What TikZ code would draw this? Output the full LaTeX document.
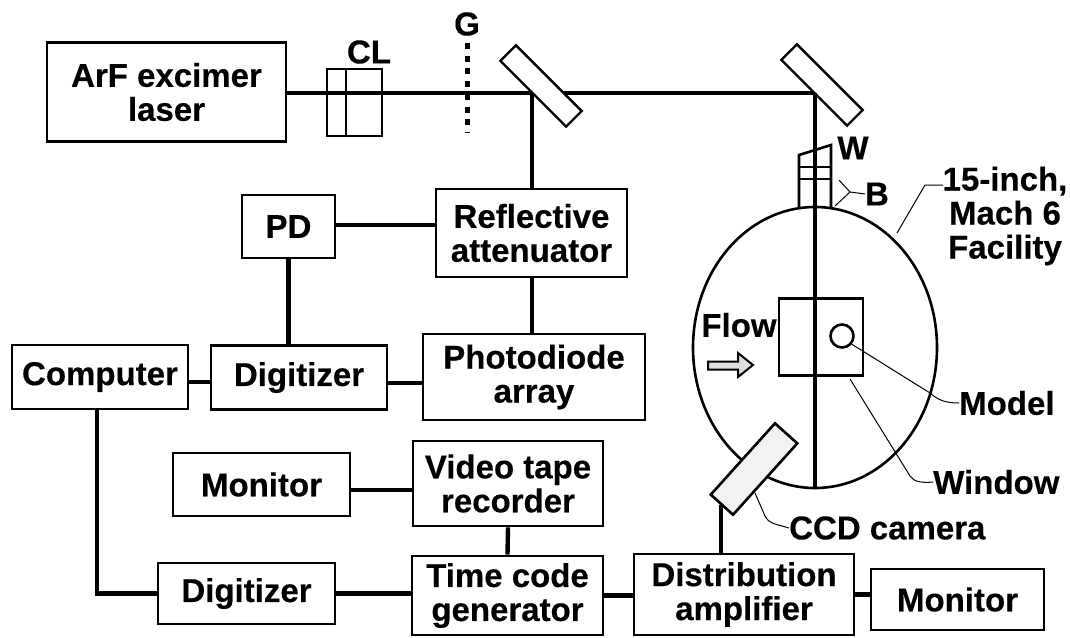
\documentclass[tikz,border=0pt]{standalone}
\usepackage{fontspec}
\setmainfont{Liberation Sans}[BoldFeatures={FakeBold=0.35}]
\usetikzlibrary{shapes.geometric,calc}
\tikzset{
  every node/.style={font=\fontsize{33}{34}\selectfont\bfseries,inner sep=0pt,align=center},
  box/.style={draw,line width=2.6pt,fill=white,rectangle},
  link/.style={line width=4.4pt},
  beam/.style={line width=4.6pt},
  thinbox/.style={line width=2.6pt},
  leader/.style={line width=1pt},
  mirror/.style={draw,line width=2.4pt,fill=white,rectangle,minimum width=93pt,minimum height=22pt,rotate=-45}
}
\begin{document}
\begin{tikzpicture}[x=1pt,y=-1pt]
\useasboundingbox (0,0) rectangle (1070,637);
% beam
\node[box,minimum width=239pt,minimum height=99pt] (laser) at (166.5,92) {ArF excimer\\laser};
\coordinate (hitA) at (532,93);
\coordinate (hitB) at (815,93);
\draw[beam] (laser.east |- hitA) -- (hitB);
\node[draw,thinbox,minimum width=55pt,minimum height=67pt] (cl) at (354.5,102.5) {};
\draw[thinbox] (346,69) -- (346,136);
\node at (369,52) (cltxt) {CL};
\node at (467,24) (gtxt) {G};
\coordinate (gA) at (467,43);
\coordinate (gB) at (467,132);
\draw[line width=5pt,dash pattern=on 6pt off 6.7pt] (gA) -- (gB);
\node[mirror] (mA) at (541,86) {};
\node[mirror] (mB) at (822,85) {};
% facility
\node[draw,ellipse,line width=2.6pt,minimum width=244pt,minimum height=281pt] (fac) at (815,347.5) {};
\draw[thinbox] (799,207) -- (799,155) -- (831,145) -- (831,207);
\draw[thinbox] (799,167) -- (831,167);
\draw[line width=1.4pt] (799,179) -- (831,179);
\node[draw,thinbox,minimum width=84pt,minimum height=77pt] (win) at (821,337) {};
\node[draw,circle,thinbox,minimum size=23pt] (mod) at (842,336) {};
\draw[beam] (hitB) -- (hitB |- fac.south);
% left blocks
\node[box,minimum width=176pt,minimum height=64pt] (comp) at (100,377) {Computer};
\node[box,minimum width=176pt,minimum height=64pt] (digA) at (299,377.5) {Digitizer};
\node[box,minimum width=93pt,minimum height=63pt] (pd) at (288.5,226.5) {PD};
\node[box,minimum width=191pt,minimum height=88pt] (refl) at (531.5,233) {Reflective\\attenuator};
\node[box,minimum width=222pt,minimum height=86pt] (photo) at (534,377) {Photodiode\\array};
\node[box,minimum width=177pt,minimum height=63pt] (monA) at (261.5,484.5) {Monitor};
\node[box,minimum width=190pt,minimum height=85pt] (vtr) at (508,483.5) {Video tape\\recorder};
\node[box,minimum width=177pt,minimum height=61pt] (digB) at (246.5,593.5) {Digitizer};
\node[box,minimum width=191pt,minimum height=79pt] (tcg) at (507.5,595.5) {Time code\\generator};
\node[box,minimum width=220pt,minimum height=81pt] (dist) at (744,594.5) {Distribution\\amplifier};
\node[box,minimum width=173pt,minimum height=61pt] (monB) at (957.5,599.5) {Monitor};
% camera
\node[draw,line width=2.6pt,fill=gray!10,rectangle,minimum width=96pt,minimum height=30pt,rotate=48] (cam) at (754,469) {};
\coordinate (camfoot) at (721,505);
% connectors
\coordinate (pdR) at ([yshift=1.5pt]pd.east);
\coordinate (compR) at ([yshift=-5pt]comp.east);
\coordinate (digAR) at ([yshift=-5.5pt]digA.east);
\coordinate (monAR) at ([yshift=-5.5pt]monA.east);
\draw[link] (hitA) -- (hitA |- refl.north);
\draw[link] (hitA |- refl.south) -- (hitA |- photo.north);
\draw[link] (pdR) -- (refl.west |- pdR);
\draw[link] (pd.south) -- (pd.south |- digA.north);
\draw[link] (compR) -- (digA.west |- compR);
\draw[link] (digAR) -- (photo.west |- digAR);
\draw[link] ([xshift=-3pt]comp.south) |- (digB.west);
\draw[link] (monAR) -- (vtr.west |- monAR);
\draw[link] (vtr.south) -- (tcg.north);
\draw[link] (digB.east) -- (tcg.west |- digB.east);
\draw[link] (tcg.east) -- (dist.west |- tcg.east);
\draw[link] (dist.east) -- (monB.west |- dist.east);
\draw[link] (camfoot) -- (camfoot |- dist.north);
% flow arrow
\node at (739,325) (flowtxt) {Flow};
\draw[line width=2pt,fill=gray!25] (708,361.5) -- (738,361.5) -- (738,353) -- (753,365) -- (738,377) -- (738,369.5) -- (708,369.5) -- cycle;
% labels
\node at (853,148) (w) {W};
\node at (877,194) (b) {B};
\coordinate (bJ) at (850,192);
\draw[leader] (b.west) -- (bJ) -- (839,180);
\draw[leader] (bJ) -- (835,206);
\node at (1005,216) (factxt) {15-inch,\\Mach 6\\Facility};
\draw[leader] (897,233) -- (925,185) -- (943,185);
\node[anchor=west] at (959,403) (modeltxt) {Model};
\draw[leader] (mod.-40) -- (930,393) .. controls (938,400) and (945,403) .. (modeltxt.west);
\node[anchor=west] at (933,482) (windowtxt) {Window};
\draw[leader] (850,379) -- (910,476) .. controls (914,482) and (922,483) .. (windowtxt.west);
\node[anchor=west] at (789,528) (camtxt) {CCD camera};
\draw[leader] (755,493) -- (765,516) .. controls (769,524) and (776,524) .. (camtxt.west);
\end{tikzpicture}
\end{document}
